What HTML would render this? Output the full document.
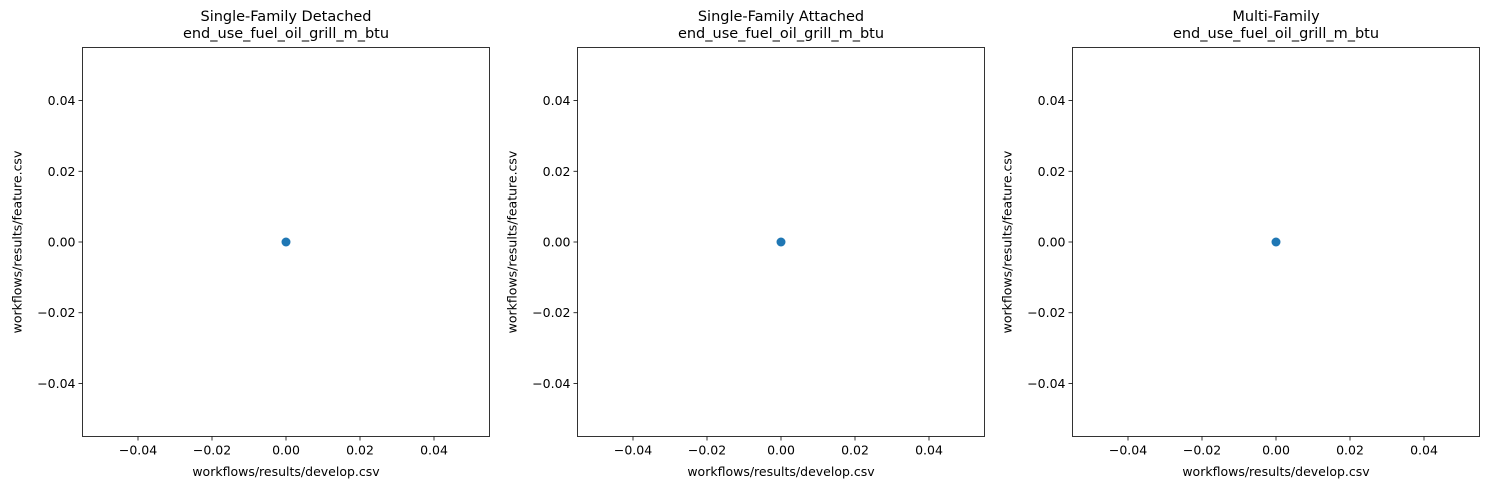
<!DOCTYPE html>
<html><head><meta charset="utf-8"><style>
html,body{margin:0;padding:0;background:#fff;}
svg{display:block;font-family:"DejaVu Sans","Liberation Sans",sans-serif;}
</style></head><body>
<svg id="c" width="1490" height="490" viewBox="0 0 1490 490"></svg>
<script>
const panelTitles = ["Single-Family Detached","Single-Family Attached","Multi-Family"];
const metricName = "end_use_fuel_oil_grill_m_btu";
const xValues = [[0],[0],[0]];
const yValues = [[0],[0],[0]];
const tickValues = [-0.04,-0.02,0,0.02,0.04];
const tickLabels = ["\u22120.04","\u22120.02","0.00","0.02","0.04"];
const domain = [-0.055,0.055];

const NS="http://www.w3.org/2000/svg";
const svgRoot=document.getElementById('c');
function mk(tag,attrs,parent){const e=document.createElementNS(NS,tag);for(const k in attrs)e.setAttribute(k,attrs[k]);(parent||svgRoot).appendChild(e);return e;}
const W=407, H=389, plotTop=47.5;
panelTitles.forEach((t,p)=>{
  const left=82.5+p*495;
  const g=mk('g',{});
  
  
  const sx=v=>left+(v-domain[0])/(domain[1]-domain[0])*W;
  const sy=v=>plotTop+H-(v-domain[0])/(domain[1]-domain[0])*H;
  const t1=mk('text',{x:left+W/2,y:21,'text-anchor':'middle','font-size':14.5},g);t1.textContent=t;
  
  
  const t2=mk('text',{x:left+W/2,y:38,'text-anchor':'middle','font-size':14.5},g);t2.textContent=metricName;
  
  
  tickValues.forEach((v,i)=>{
    const x=sx(v);
    mk('line',{x1:x,x2:x,y1:plotTop+H,y2:plotTop+H+4,stroke:'#000','stroke-width':0.8},g);
    const tx=mk('text',{x:x,y:plotTop+H+18,'text-anchor':'middle','font-size':12.5},g);tx.textContent=tickLabels[i];
    
    
    const y=sy(v);
    mk('line',{x1:left-4,x2:left,y1:y,y2:y,stroke:'#000','stroke-width':0.8},g);
    const ty=mk('text',{x:left-7,y:y+4.5,'text-anchor':'end','font-size':12.5},g);ty.textContent=tickLabels[i];
    
    
  });
  xValues[p].forEach((xv,i)=>{
    const c=mk('circle',{cx:sx(xv),cy:sy(yValues[p][i]),r:4.5,fill:'#1f77b4'},g);
    
    
  });
  const fr=mk('rect',{x:left,y:plotTop,width:W,height:H,fill:'none',stroke:'#000','stroke-width':0.8},g);
  
  
  const xl=mk('text',{x:left+W/2,y:476,'text-anchor':'middle','font-size':12.5},g);xl.textContent="workflows/results/develop.csv";
  
  
  const yx=left-61, yy=plotTop+H/2;
  const yl=mk('text',{x:yx,y:yy,'text-anchor':'middle','font-size':12.5,transform:`rotate(-90 ${yx} ${yy})`},g);yl.textContent="workflows/results/feature.csv";
  
  
});
</script>
</body></html>
